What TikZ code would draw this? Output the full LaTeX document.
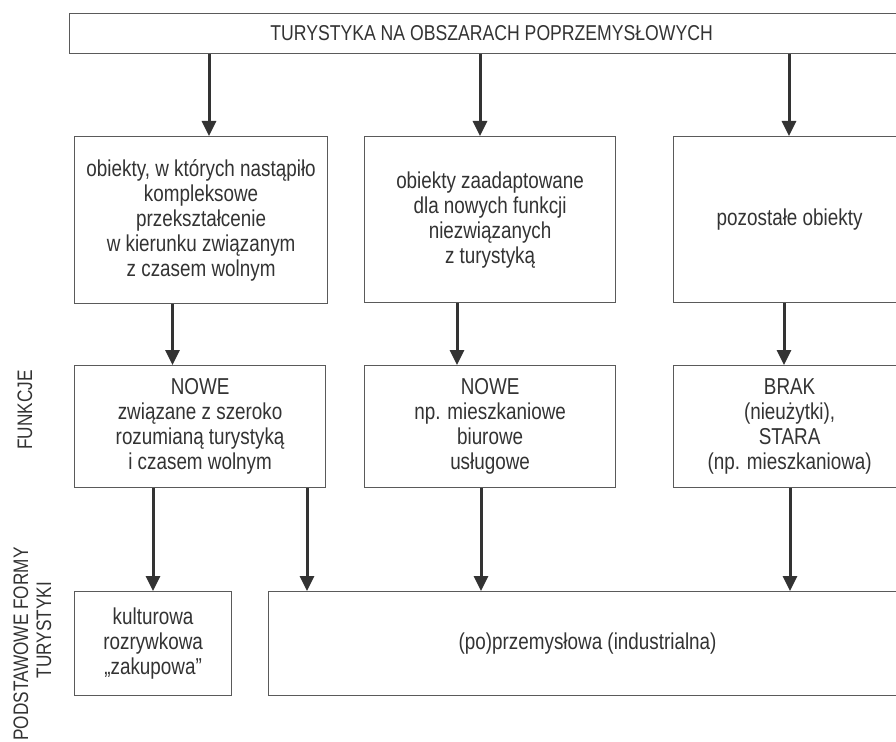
\documentclass[tikz,border=0pt]{standalone}
\usepackage{fontspec}
\setmainfont[FakeStretch=0.82]{Liberation Sans}
\usetikzlibrary{arrows.meta}
\definecolor{txt}{HTML}{333333}
\definecolor{brd}{HTML}{5A5A5A}
\definecolor{arw}{HTML}{333333}
\tikzset{
  box/.style={draw=brd, line width=1.2pt, anchor=north west, align=center,
    text=txt, inner sep=0pt, font=\fontsize{23}{25}\selectfont},
  arr/.style={draw=arw, line width=3pt, -{Triangle[width=14pt,length=15pt]}},
  lbl/.style={text=txt, rotate=90, align=center, inner sep=0pt,
    font=\fontsize{21}{25}\selectfont}
}
\begin{document}
\begin{tikzpicture}[x=1pt,y=-1pt]
\useasboundingbox (0,0) rectangle (896,741);
\clip (0,0) rectangle (896,741);
\fill[white] (0,0) rectangle (896,741);
% top
\node[box, minimum width=844pt, minimum height=40pt, font=\fontsize{21.5}{25}\selectfont] (top) at (69,13)
  {TURYSTYKA NA OBSZARACH POPRZEMYSŁOWYCH};
% row 2
\node[box, minimum width=253pt, minimum height=167pt] (b1) at (74,136)
  {obiekty, w których nastąpiło\\kompleksowe\\przekształcenie\\w kierunku związanym\\z czasem wolnym};
\node[box, minimum width=251pt, minimum height=166pt] (b2) at (364,136)
  {obiekty zaadaptowane\\dla nowych funkcji\\niezwiązanych\\z turystyką};
\node[box, minimum width=232pt, minimum height=166pt] (b3) at (673,136)
  {pozostałe obiekty};
% row 3
\node[box, minimum width=251pt, minimum height=122pt] (c1) at (74,365)
  {NOWE\\związane z szeroko\\rozumianą turystyką\\i czasem wolnym};
\node[box, minimum width=251pt, minimum height=122pt] (c2) at (364,365)
  {NOWE\\np. mieszkaniowe\\biurowe\\usługowe};
\node[box, minimum width=232pt, minimum height=122pt] (c3) at (673,365)
  {BRAK\\(nieużytki),\\STARA\\(np. mieszkaniowa)};
% row 4
\node[box, minimum width=157pt, minimum height=104pt] (d1) at (74,591)
  {kulturowa\\rozrywkowa\\„zakupowa”};
\node[box, minimum width=638pt, minimum height=104pt] (d2) at (268,591)
  {(po)przemysłowa (industrialna)};
% side labels
\node[lbl] (fun) at (25,410) {FUNKCJE};
\node[lbl] (pod) at (21,644) {PODSTAWOWE FORMY};
\node[lbl] (tur) at (44,630) {TURYSTYKI};
% arrow x positions
\coordinate (xa) at (209,0);
\coordinate (xb) at (480,0);
\coordinate (xc) at (789,0);
\coordinate (xd) at (172.5,0);
\coordinate (xe) at (457,0);
\coordinate (xf) at (784,0);
\coordinate (xg) at (153,0);
\coordinate (xh) at (307,0);
\coordinate (xi) at (481,0);
\coordinate (xj) at (790,0);
% arrows
\draw[arr] (xa |- top.south) -- (xa |- b1.north);
\draw[arr] (xb |- top.south) -- (xb |- b2.north);
\draw[arr] (xc |- top.south) -- (xc |- b3.north);
\draw[arr] (xd |- b1.south) -- (xd |- c1.north);
\draw[arr] (xe |- b2.south) -- (xe |- c2.north);
\draw[arr] (xf |- b3.south) -- (xf |- c3.north);
\draw[arr] (xg |- c1.south) -- (xg |- d1.north);
\draw[arr] (xh |- c1.south) -- (xh |- d2.north);
\draw[arr] (xi |- c2.south) -- (xi |- d2.north);
\draw[arr] (xj |- c3.south) -- (xj |- d2.north);
\end{tikzpicture}
\end{document}
